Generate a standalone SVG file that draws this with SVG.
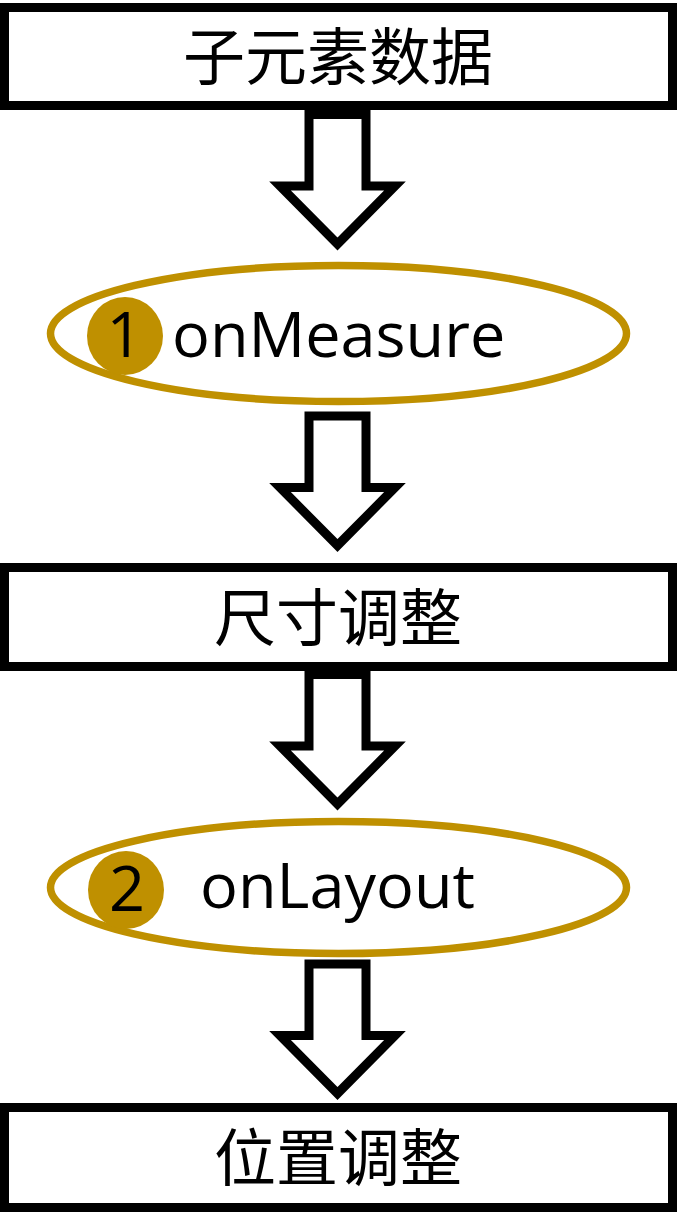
<svg xmlns="http://www.w3.org/2000/svg" width="677" height="1232" viewBox="0 0 677 1232">
<style>
.box{fill:#fff;stroke:#000;stroke-width:9}
.arrow{fill:#fff;stroke:#000;stroke-width:9;stroke-linejoin:miter;stroke-miterlimit:10}
.oval{fill:#fff;stroke:#BF9000;stroke-width:7.5}
.badge{fill:#BF9000}
.cjk{font-family:"Noto Sans CJK SC","Noto Sans",sans-serif;font-size:62px;fill:#000;text-anchor:middle}
.lat{font-family:"Open Sans","Noto Sans",sans-serif;font-size:63px;fill:#000}
</style>
<defs>
<polygon id="arr" points="309,4.5 366,4.5 366,76 395,76 337.5,134 280,76 309,76"/>
</defs>
<rect width="677" height="1232" fill="#fff"/>
<g id="connectors">
<use href="#arr" class="arrow" transform="translate(0,110)"/>
<use href="#arr" class="arrow" transform="translate(0,411.5)"/>
<use href="#arr" class="arrow" transform="translate(0,670)"/>
<use href="#arr" class="arrow" transform="translate(0,959.5)"/>
</g>
<g id="node-data">
<rect class="box" x="4.5" y="7.5" width="668" height="98"/>
<text class="cjk" x="338" y="80">子元素数据</text>
</g>
<g id="node-onMeasure">
<ellipse class="oval" cx="338.5" cy="333.5" rx="288" ry="68"/>
<ellipse class="badge" cx="125" cy="336" rx="38" ry="39"/>
<text class="lat" x="124.5" y="357" text-anchor="middle">1</text>
<text class="lat" x="172" y="357">onMeasure</text>
</g>
<g id="node-size">
<rect class="box" x="4.5" y="567.5" width="668" height="99"/>
<text class="cjk" x="338" y="641">尺寸调整</text>
</g>
<g id="node-onLayout">
<ellipse class="oval" cx="338.5" cy="887.5" rx="288" ry="66"/>
<ellipse class="badge" cx="126" cy="890" rx="38" ry="39"/>
<text class="lat" x="127" y="911" text-anchor="middle">2</text>
<text class="lat" x="200" y="908">onLayout</text>
</g>
<g id="node-position">
<rect class="box" x="4.5" y="1107.5" width="668" height="100"/>
<text class="cjk" x="338" y="1181">位置调整</text>
</g>
</svg>
